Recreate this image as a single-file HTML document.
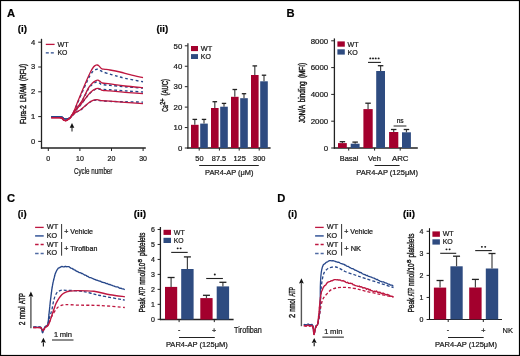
<!DOCTYPE html>
<html><head><meta charset="utf-8"><style>
html,body{margin:0;padding:0;background:#fff;}
svg{display:block;will-change:transform;}
text{font-family:"Liberation Sans",sans-serif;stroke:#1a1a1a;stroke-width:0.22px;}
</style></head><body>
<svg width="520" height="356" viewBox="0 0 520 356">
<rect x="0" y="0" width="520" height="356" fill="#fff"/>
<text x="7.0" y="16.6" font-size="11.2" text-anchor="start" fill="#000" font-weight="bold" >A</text>
<text x="286.4" y="16.6" font-size="11.2" text-anchor="start" fill="#000" font-weight="bold" >B</text>
<text x="7.0" y="201.8" font-size="11.2" text-anchor="start" fill="#000" font-weight="bold" >C</text>
<text x="277.2" y="201.8" font-size="11.2" text-anchor="start" fill="#000" font-weight="bold" >D</text>
<text x="17.7" y="31.7" font-size="8.6" text-anchor="start" fill="#000" font-weight="bold" textLength="9.2" lengthAdjust="spacingAndGlyphs" >(i)</text>
<line x1="41.5" y1="38.8" x2="41.5" y2="148.6" stroke="#222" stroke-width="1.3" />
<line x1="40.9" y1="148" x2="145.8" y2="148" stroke="#222" stroke-width="1.3" />
<line x1="38.2" y1="141.4" x2="41.5" y2="141.4" stroke="#222" stroke-width="1.0" />
<text x="35.3" y="143.8" font-size="7.6" text-anchor="end" fill="#1a1a1a" >0</text>
<line x1="38.2" y1="116.60000000000001" x2="41.5" y2="116.60000000000001" stroke="#222" stroke-width="1.0" />
<text x="35.3" y="119.00000000000001" font-size="7.6" text-anchor="end" fill="#1a1a1a" >1</text>
<line x1="38.2" y1="91.80000000000001" x2="41.5" y2="91.80000000000001" stroke="#222" stroke-width="1.0" />
<text x="35.3" y="94.20000000000002" font-size="7.6" text-anchor="end" fill="#1a1a1a" >2</text>
<line x1="38.2" y1="67.0" x2="41.5" y2="67.0" stroke="#222" stroke-width="1.0" />
<text x="35.3" y="69.4" font-size="7.6" text-anchor="end" fill="#1a1a1a" >3</text>
<line x1="38.2" y1="42.2" x2="41.5" y2="42.2" stroke="#222" stroke-width="1.0" />
<text x="35.3" y="44.6" font-size="7.6" text-anchor="end" fill="#1a1a1a" >4</text>
<line x1="48.3" y1="148" x2="48.3" y2="151" stroke="#222" stroke-width="1.0" />
<text x="48.3" y="161.0" font-size="7.0" text-anchor="middle" fill="#1a1a1a" >0</text>
<line x1="79.9" y1="148" x2="79.9" y2="151" stroke="#222" stroke-width="1.0" />
<text x="79.9" y="161.0" font-size="7.0" text-anchor="middle" fill="#1a1a1a" >10</text>
<line x1="111.5" y1="148" x2="111.5" y2="151" stroke="#222" stroke-width="1.0" />
<text x="111.5" y="161.0" font-size="7.0" text-anchor="middle" fill="#1a1a1a" >20</text>
<line x1="143.10000000000002" y1="148" x2="143.10000000000002" y2="151" stroke="#222" stroke-width="1.0" />
<text x="143.10000000000002" y="161.0" font-size="7.0" text-anchor="middle" fill="#1a1a1a" >30</text>
<text x="74.0" y="173.5" font-size="8.5" text-anchor="start" fill="#1a1a1a" textLength="38.4" lengthAdjust="spacingAndGlyphs" >Cycle number</text>
<text transform="translate(25.90,124.10) rotate(-90)" font-size="8.5" fill="#1a1a1a" style="stroke-width:0.45px" textLength="19.00" lengthAdjust="spacingAndGlyphs">Fura-2</text>
<text transform="translate(25.90,102.10) rotate(-90)" font-size="8.5" fill="#1a1a1a" style="stroke-width:0.45px" textLength="18.30" lengthAdjust="spacingAndGlyphs">LR/AM</text>
<text transform="translate(25.90,80.90) rotate(-90)" font-size="8.5" fill="#1a1a1a" style="stroke-width:0.45px" textLength="16.90" lengthAdjust="spacingAndGlyphs">(RFU)</text>
<line x1="45.8" y1="44.4" x2="54.6" y2="44.4" stroke="#be1740" stroke-width="1.3" />
<text x="57.4" y="47.1" font-size="7.2" text-anchor="start" fill="#1a1a1a" textLength="11.2" lengthAdjust="spacingAndGlyphs" >WT</text>
<line x1="45.8" y1="52.8" x2="54.6" y2="52.8" stroke="#27478a" stroke-width="1.3" stroke-dasharray="3,2"/>
<text x="57.4" y="55.3" font-size="7.2" text-anchor="start" fill="#1a1a1a" textLength="9.9" lengthAdjust="spacingAndGlyphs" >KO</text>
<line x1="72.0" y1="127.30000000000001" x2="72.0" y2="131.5" stroke="#777" stroke-width="1.7" />
<path d="M69.7,127.80000000000001 L72.0,122.9 L74.3,127.80000000000001 L72.0,127.80000000000001 Z" fill="#111"/>
<path d="M51.20,116.60 C52.33,116.60 56.28,116.55 58.00,116.60 C59.72,116.65 60.50,116.57 61.50,116.90 C62.50,117.23 63.25,118.25 64.00,118.60 C64.75,118.95 65.33,119.00 66.00,119.00 C66.67,119.00 67.25,118.88 68.00,118.60 C68.75,118.32 69.50,118.48 70.50,117.30 C71.50,116.12 72.62,114.38 74.00,111.50 C75.38,108.62 76.67,104.92 78.80,100.00 C80.93,95.08 84.93,86.08 86.80,82.00 C88.67,77.92 88.97,77.28 90.00,75.50 C91.03,73.72 92.08,72.28 93.00,71.30 C93.92,70.32 94.77,69.95 95.50,69.60 C96.23,69.25 96.73,69.13 97.40,69.20 C98.07,69.27 98.82,69.67 99.50,70.00 C100.18,70.33 100.83,70.85 101.50,71.20 C102.17,71.55 102.08,71.60 103.50,72.10 C104.92,72.60 108.08,73.62 110.00,74.20 C111.92,74.78 112.50,74.92 115.00,75.60 C117.50,76.28 120.33,77.27 125.00,78.30 C129.67,79.33 140.00,81.22 143.00,81.80" fill="none" stroke="#27478a" stroke-width="1.4" stroke-dasharray="2.8,2.5" stroke-dashoffset="0.0" stroke-linejoin="round"/>
<path d="M51.20,116.60 C52.33,116.60 56.28,116.55 58.00,116.60 C59.72,116.65 60.50,116.57 61.50,116.90 C62.50,117.23 63.25,118.25 64.00,118.60 C64.75,118.95 65.33,119.00 66.00,119.00 C66.67,119.00 67.25,118.88 68.00,118.60 C68.75,118.32 69.33,118.63 70.50,117.30 C71.67,115.97 73.13,113.18 75.00,110.60 C76.87,108.02 79.45,105.45 81.70,101.80 C83.95,98.15 86.70,91.62 88.50,88.70 C90.30,85.78 91.33,85.37 92.50,84.30 C93.67,83.23 94.67,82.68 95.50,82.30 C96.33,81.92 96.75,81.82 97.50,82.00 C98.25,82.18 99.25,82.97 100.00,83.40 C100.75,83.83 100.33,84.28 102.00,84.60 C103.67,84.92 106.17,84.93 110.00,85.30 C113.83,85.67 119.50,86.33 125.00,86.80 C130.50,87.27 140.00,87.88 143.00,88.10" fill="none" stroke="#27478a" stroke-width="1.4" stroke-dasharray="2.8,2.5" stroke-dashoffset="1.3" stroke-linejoin="round"/>
<path d="M51.20,116.60 C52.33,116.60 56.28,116.55 58.00,116.60 C59.72,116.65 60.50,116.57 61.50,116.90 C62.50,117.23 63.25,118.25 64.00,118.60 C64.75,118.95 65.33,119.00 66.00,119.00 C66.67,119.00 67.25,118.88 68.00,118.60 C68.75,118.32 69.25,118.62 70.50,117.30 C71.75,115.98 73.82,112.75 75.50,110.70 C77.18,108.65 78.43,107.65 80.60,105.00 C82.77,102.35 86.43,97.17 88.50,94.80 C90.57,92.43 91.75,91.73 93.00,90.80 C94.25,89.87 95.17,89.52 96.00,89.20 C96.83,88.88 97.25,88.88 98.00,88.90 C98.75,88.92 98.50,89.15 100.50,89.30 C102.50,89.45 105.92,89.53 110.00,89.80 C114.08,90.07 119.50,90.53 125.00,90.90 C130.50,91.27 140.00,91.82 143.00,92.00" fill="none" stroke="#27478a" stroke-width="1.4" stroke-dasharray="2.8,2.5" stroke-dashoffset="2.6" stroke-linejoin="round"/>
<path d="M51.20,116.60 C52.33,116.60 56.28,116.55 58.00,116.60 C59.72,116.65 60.50,116.57 61.50,116.90 C62.50,117.23 63.25,118.25 64.00,118.60 C64.75,118.95 65.33,119.00 66.00,119.00 C66.67,119.00 67.25,118.88 68.00,118.60 C68.75,118.32 69.17,118.33 70.50,117.30 C71.83,116.27 74.32,113.62 76.00,112.40 C77.68,111.18 78.52,111.53 80.60,110.00 C82.68,108.47 86.43,104.77 88.50,103.20 C90.57,101.63 91.58,101.13 93.00,100.60 C94.42,100.07 95.83,100.00 97.00,100.00 C98.17,100.00 97.83,100.37 100.00,100.60 C102.17,100.83 105.83,101.20 110.00,101.40 C114.17,101.60 119.50,101.68 125.00,101.80 C130.50,101.92 140.00,102.05 143.00,102.10" fill="none" stroke="#27478a" stroke-width="1.4" stroke-dasharray="2.8,2.5" stroke-dashoffset="3.9000000000000004" stroke-linejoin="round"/>
<path d="M51.20,117.60 C52.33,117.60 56.28,117.55 58.00,117.60 C59.72,117.65 60.50,117.45 61.50,117.90 C62.50,118.35 63.25,119.85 64.00,120.30 C64.75,120.75 65.33,120.73 66.00,120.60 C66.67,120.47 67.25,120.05 68.00,119.50 C68.75,118.95 69.50,118.72 70.50,117.30 C71.50,115.88 72.68,113.88 74.00,111.00 C75.32,108.12 76.27,105.17 78.40,100.00 C80.53,94.83 84.78,84.67 86.80,80.00 C88.82,75.33 89.38,74.17 90.50,72.00 C91.62,69.83 92.67,68.12 93.50,67.00 C94.33,65.88 94.87,65.63 95.50,65.30 C96.13,64.97 96.75,64.92 97.30,65.00 C97.85,65.08 98.30,65.38 98.80,65.80 C99.30,66.22 99.77,66.98 100.30,67.50 C100.83,68.02 101.22,68.60 102.00,68.90 C102.78,69.20 103.67,69.12 105.00,69.30 C106.33,69.48 107.50,69.55 110.00,70.00 C112.50,70.45 116.67,71.23 120.00,72.00 C123.33,72.77 126.17,73.67 130.00,74.60 C133.83,75.53 140.83,77.10 143.00,77.60" fill="none" stroke="#be1740" stroke-width="1.3" stroke-linejoin="round"/>
<path d="M51.20,117.60 C52.33,117.60 56.28,117.55 58.00,117.60 C59.72,117.65 60.50,117.45 61.50,117.90 C62.50,118.35 63.25,119.85 64.00,120.30 C64.75,120.75 65.33,120.73 66.00,120.60 C66.67,120.47 67.25,120.05 68.00,119.50 C68.75,118.95 69.33,118.83 70.50,117.30 C71.67,115.77 73.13,112.97 75.00,110.30 C76.87,107.63 79.45,105.03 81.70,101.30 C83.95,97.57 86.70,90.95 88.50,87.90 C90.30,84.85 91.33,84.18 92.50,83.00 C93.67,81.82 94.60,81.27 95.50,80.80 C96.40,80.33 97.10,80.07 97.90,80.20 C98.70,80.33 99.53,81.13 100.30,81.60 C101.07,82.07 100.88,82.62 102.50,83.00 C104.12,83.38 106.25,83.40 110.00,83.90 C113.75,84.40 119.50,85.37 125.00,86.00 C130.50,86.63 140.00,87.42 143.00,87.70" fill="none" stroke="#be1740" stroke-width="1.3" stroke-linejoin="round"/>
<path d="M51.20,117.60 C52.33,117.60 56.28,117.55 58.00,117.60 C59.72,117.65 60.50,117.45 61.50,117.90 C62.50,118.35 63.25,119.85 64.00,120.30 C64.75,120.75 65.33,120.73 66.00,120.60 C66.67,120.47 67.25,120.05 68.00,119.50 C68.75,118.95 69.25,118.80 70.50,117.30 C71.75,115.80 73.82,112.60 75.50,110.50 C77.18,108.40 78.43,107.35 80.60,104.70 C82.77,102.05 86.43,97.00 88.50,94.60 C90.57,92.20 91.75,91.28 93.00,90.30 C94.25,89.32 95.13,89.03 96.00,88.70 C96.87,88.37 97.45,88.20 98.20,88.30 C98.95,88.40 99.78,88.97 100.50,89.30 C101.22,89.63 100.92,90.03 102.50,90.30 C104.08,90.57 106.25,90.57 110.00,90.90 C113.75,91.23 119.50,91.83 125.00,92.30 C130.50,92.77 140.00,93.47 143.00,93.70" fill="none" stroke="#be1740" stroke-width="1.3" stroke-linejoin="round"/>
<path d="M51.20,117.60 C52.33,117.60 56.28,117.55 58.00,117.60 C59.72,117.65 60.50,117.45 61.50,117.90 C62.50,118.35 63.25,119.85 64.00,120.30 C64.75,120.75 65.33,120.73 66.00,120.60 C66.67,120.47 67.25,120.05 68.00,119.50 C68.75,118.95 69.17,118.50 70.50,117.30 C71.83,116.10 74.32,113.55 76.00,112.30 C77.68,111.05 78.52,111.35 80.60,109.80 C82.68,108.25 86.43,104.58 88.50,103.00 C90.57,101.42 91.58,100.87 93.00,100.30 C94.42,99.73 95.83,99.60 97.00,99.60 C98.17,99.60 97.83,100.03 100.00,100.30 C102.17,100.57 105.83,100.87 110.00,101.20 C114.17,101.53 119.50,101.90 125.00,102.30 C130.50,102.70 140.00,103.38 143.00,103.60" fill="none" stroke="#be1740" stroke-width="1.3" stroke-linejoin="round"/>
<text x="156.4" y="31.7" font-size="8.6" text-anchor="start" fill="#000" font-weight="bold" textLength="11.8" lengthAdjust="spacingAndGlyphs" >(ii)</text>
<line x1="187.9" y1="43.2" x2="187.9" y2="148.6" stroke="#444" stroke-width="1.4" />
<line x1="187.1" y1="148" x2="270.6" y2="148" stroke="#222" stroke-width="1.3" />
<line x1="184.8" y1="148.0" x2="187.7" y2="148.0" stroke="#222" stroke-width="1.0" />
<text x="182.3" y="150.7" font-size="7.8" text-anchor="end" fill="#1a1a1a" >0</text>
<line x1="184.8" y1="127.56" x2="187.7" y2="127.56" stroke="#222" stroke-width="1.0" />
<text x="182.3" y="130.26" font-size="7.8" text-anchor="end" fill="#1a1a1a" >10</text>
<line x1="184.8" y1="107.12" x2="187.7" y2="107.12" stroke="#222" stroke-width="1.0" />
<text x="182.3" y="109.82000000000001" font-size="7.8" text-anchor="end" fill="#1a1a1a" >20</text>
<line x1="184.8" y1="86.67999999999999" x2="187.7" y2="86.67999999999999" stroke="#222" stroke-width="1.0" />
<text x="182.3" y="89.38" font-size="7.8" text-anchor="end" fill="#1a1a1a" >30</text>
<line x1="184.8" y1="66.24" x2="187.7" y2="66.24" stroke="#222" stroke-width="1.0" />
<text x="182.3" y="68.94" font-size="7.8" text-anchor="end" fill="#1a1a1a" >40</text>
<line x1="184.8" y1="45.8" x2="187.7" y2="45.8" stroke="#222" stroke-width="1.0" />
<text x="182.3" y="48.5" font-size="7.8" text-anchor="end" fill="#1a1a1a" >50</text>
<rect x="191.0" y="124.8" width="7.60" height="23.20" fill="#a3002d"/>
<line x1="194.8" y1="124.8" x2="194.8" y2="119.4" stroke="#444" stroke-width="1.2" />
<line x1="192.5" y1="119.4" x2="197.10000000000002" y2="119.4" stroke="#222" stroke-width="1.3" />
<rect x="211.0" y="108.0" width="7.60" height="40.00" fill="#a3002d"/>
<line x1="214.8" y1="108.0" x2="214.8" y2="101.7" stroke="#444" stroke-width="1.2" />
<line x1="212.5" y1="101.7" x2="217.10000000000002" y2="101.7" stroke="#222" stroke-width="1.3" />
<rect x="231.0" y="96.8" width="7.60" height="51.20" fill="#a3002d"/>
<line x1="234.8" y1="96.8" x2="234.8" y2="89.5" stroke="#444" stroke-width="1.2" />
<line x1="232.5" y1="89.5" x2="237.10000000000002" y2="89.5" stroke="#222" stroke-width="1.3" />
<rect x="251.0" y="75.0" width="7.60" height="73.00" fill="#a3002d"/>
<line x1="254.8" y1="75.0" x2="254.8" y2="65.9" stroke="#444" stroke-width="1.2" />
<line x1="252.5" y1="65.9" x2="257.1" y2="65.9" stroke="#222" stroke-width="1.3" />
<rect x="200.2" y="123.6" width="7.60" height="24.40" fill="#2e4b80"/>
<line x1="204.0" y1="123.6" x2="204.0" y2="119.4" stroke="#444" stroke-width="1.2" />
<line x1="201.8" y1="119.4" x2="206.2" y2="119.4" stroke="#222" stroke-width="1.3" />
<rect x="220.2" y="106.7" width="7.60" height="41.30" fill="#2e4b80"/>
<line x1="224.0" y1="106.7" x2="224.0" y2="103.4" stroke="#444" stroke-width="1.2" />
<line x1="221.8" y1="103.4" x2="226.2" y2="103.4" stroke="#222" stroke-width="1.3" />
<rect x="240.2" y="98.2" width="7.60" height="49.80" fill="#2e4b80"/>
<line x1="244.0" y1="98.2" x2="244.0" y2="93.7" stroke="#444" stroke-width="1.2" />
<line x1="241.8" y1="93.7" x2="246.2" y2="93.7" stroke="#222" stroke-width="1.3" />
<rect x="260.2" y="81.3" width="7.60" height="66.70" fill="#2e4b80"/>
<line x1="264.0" y1="81.3" x2="264.0" y2="75.2" stroke="#444" stroke-width="1.2" />
<line x1="261.8" y1="75.2" x2="266.2" y2="75.2" stroke="#222" stroke-width="1.3" />
<line x1="199.2" y1="148" x2="199.2" y2="150.6" stroke="#222" stroke-width="1.0" />
<line x1="219.4" y1="148" x2="219.4" y2="150.6" stroke="#222" stroke-width="1.0" />
<line x1="239.2" y1="148" x2="239.2" y2="150.6" stroke="#222" stroke-width="1.0" />
<line x1="259.2" y1="148" x2="259.2" y2="150.6" stroke="#222" stroke-width="1.0" />
<text x="199.4" y="161.2" font-size="7.4" text-anchor="middle" fill="#1a1a1a" >50</text>
<text x="219.0" y="161.2" font-size="7.4" text-anchor="middle" fill="#1a1a1a" >87.5</text>
<text x="239.6" y="161.2" font-size="7.4" text-anchor="middle" fill="#1a1a1a" >125</text>
<text x="259.2" y="161.2" font-size="7.4" text-anchor="middle" fill="#1a1a1a" >300</text>
<line x1="199.2" y1="165.5" x2="258.8" y2="165.5" stroke="#222" stroke-width="1.0" />
<text x="205.0" y="174.8" font-size="7.5" text-anchor="start" fill="#1a1a1a" textLength="48.5" lengthAdjust="spacingAndGlyphs" >PAR4-AP (μM)</text>
<rect x="191" y="46" width="7.00" height="5.10" fill="#a3002d"/>
<rect x="191" y="54.1" width="7.00" height="4.90" fill="#2e4b80"/>
<text x="200.8" y="50.9" font-size="7.0" text-anchor="start" fill="#1a1a1a" textLength="11.4" lengthAdjust="spacingAndGlyphs" >WT</text>
<text x="200.8" y="58.8" font-size="7.0" text-anchor="start" fill="#1a1a1a" textLength="10.1" lengthAdjust="spacingAndGlyphs" >KO</text>
<text transform="translate(168.30,111.70) rotate(-90)" font-size="9.0" fill="#1a1a1a" style="stroke-width:0.45px" textLength="6.40" lengthAdjust="spacingAndGlyphs">Ca</text>
<text transform="translate(164.50,104.80) rotate(-90)" font-size="6.4" fill="#1a1a1a" style="stroke-width:0.45px" textLength="6.40" lengthAdjust="spacingAndGlyphs">2+</text>
<text transform="translate(168.30,95.50) rotate(-90)" font-size="9.0" fill="#1a1a1a" style="stroke-width:0.45px" textLength="16.40" lengthAdjust="spacingAndGlyphs">(AUC)</text>
<line x1="334.4" y1="38.4" x2="334.4" y2="148.6" stroke="#222" stroke-width="1.3" />
<line x1="333.8" y1="148" x2="417.8" y2="148" stroke="#222" stroke-width="1.3" />
<line x1="331.2" y1="148.0" x2="334.4" y2="148.0" stroke="#222" stroke-width="1.0" />
<text x="328.2" y="150.7" font-size="7.9" text-anchor="end" fill="#1a1a1a" >0</text>
<line x1="331.2" y1="121.2" x2="334.4" y2="121.2" stroke="#222" stroke-width="1.0" />
<text x="328.2" y="123.9" font-size="7.9" text-anchor="end" fill="#1a1a1a" >2000</text>
<line x1="331.2" y1="94.4" x2="334.4" y2="94.4" stroke="#222" stroke-width="1.0" />
<text x="328.2" y="97.10000000000001" font-size="7.9" text-anchor="end" fill="#1a1a1a" >4000</text>
<line x1="331.2" y1="67.6" x2="334.4" y2="67.6" stroke="#222" stroke-width="1.0" />
<text x="328.2" y="70.3" font-size="7.9" text-anchor="end" fill="#1a1a1a" >6000</text>
<line x1="331.2" y1="40.8" x2="334.4" y2="40.8" stroke="#222" stroke-width="1.0" />
<text x="328.2" y="43.5" font-size="7.9" text-anchor="end" fill="#1a1a1a" >8000</text>
<rect x="338.0" y="143.1" width="8.80" height="4.90" fill="#a3002d"/>
<line x1="342.4" y1="143.1" x2="342.4" y2="141.7" stroke="#444" stroke-width="1.2" />
<line x1="339.65" y1="141.7" x2="345.15" y2="141.7" stroke="#222" stroke-width="1.3" />
<rect x="350.7" y="143.7" width="8.90" height="4.30" fill="#2e4b80"/>
<line x1="355.15" y1="143.7" x2="355.15" y2="142.1" stroke="#444" stroke-width="1.2" />
<line x1="352.4" y1="142.1" x2="357.9" y2="142.1" stroke="#222" stroke-width="1.3" />
<rect x="363.4" y="109.1" width="9.30" height="38.90" fill="#a3002d"/>
<line x1="368.04999999999995" y1="109.1" x2="368.04999999999995" y2="103.2" stroke="#444" stroke-width="1.2" />
<line x1="365.29999999999995" y1="103.2" x2="370.79999999999995" y2="103.2" stroke="#222" stroke-width="1.3" />
<rect x="376.2" y="71.0" width="8.80" height="77.00" fill="#2e4b80"/>
<line x1="380.6" y1="71.0" x2="380.6" y2="65.7" stroke="#444" stroke-width="1.2" />
<line x1="377.85" y1="65.7" x2="383.35" y2="65.7" stroke="#222" stroke-width="1.3" />
<rect x="389.1" y="132.0" width="9.20" height="16.00" fill="#a3002d"/>
<line x1="393.70000000000005" y1="132.0" x2="393.70000000000005" y2="129.5" stroke="#444" stroke-width="1.2" />
<line x1="390.95000000000005" y1="129.5" x2="396.45000000000005" y2="129.5" stroke="#222" stroke-width="1.3" />
<rect x="402.0" y="132.3" width="8.90" height="15.70" fill="#2e4b80"/>
<line x1="406.45" y1="132.3" x2="406.45" y2="129.5" stroke="#444" stroke-width="1.2" />
<line x1="403.7" y1="129.5" x2="409.2" y2="129.5" stroke="#222" stroke-width="1.3" />
<line x1="348.7" y1="148" x2="348.7" y2="150.6" stroke="#222" stroke-width="1.0" />
<line x1="374.6" y1="148" x2="374.6" y2="150.6" stroke="#222" stroke-width="1.0" />
<line x1="400.2" y1="148" x2="400.2" y2="150.6" stroke="#222" stroke-width="1.0" />
<text x="349.0" y="160.8" font-size="7.5" text-anchor="middle" fill="#1a1a1a" textLength="18.7" lengthAdjust="spacingAndGlyphs" >Basal</text>
<text x="374.5" y="160.8" font-size="7.5" text-anchor="middle" fill="#1a1a1a" textLength="13.1" lengthAdjust="spacingAndGlyphs" >Veh</text>
<text x="400.2" y="160.8" font-size="7.5" text-anchor="middle" fill="#1a1a1a" textLength="16.6" lengthAdjust="spacingAndGlyphs" >ARC</text>
<line x1="374.6" y1="165.5" x2="399.6" y2="165.5" stroke="#222" stroke-width="1.0" />
<text x="356.3" y="174.8" font-size="7.6" text-anchor="start" fill="#1a1a1a" textLength="61.7" lengthAdjust="spacingAndGlyphs" >PAR4-AP (125μM)</text>
<ellipse cx="370.3" cy="58.4" rx="1.0" ry="0.9" fill="#1a1a1a"/>
<ellipse cx="373.0" cy="58.4" rx="1.0" ry="0.9" fill="#1a1a1a"/>
<ellipse cx="375.7" cy="58.4" rx="1.0" ry="0.9" fill="#1a1a1a"/>
<ellipse cx="378.6" cy="58.4" rx="1.0" ry="0.9" fill="#1a1a1a"/>
<line x1="368.0" y1="62.4" x2="380.9" y2="62.4" stroke="#222" stroke-width="1.1" />
<text x="400.2" y="122.9" font-size="6.4" text-anchor="middle" fill="#1a1a1a" textLength="7.0" lengthAdjust="spacingAndGlyphs" >ns</text>
<line x1="393.6" y1="126" x2="406.4" y2="126" stroke="#222" stroke-width="1.0" />
<rect x="337.4" y="41.4" width="7.40" height="5.30" fill="#a3002d"/>
<rect x="337.4" y="49.3" width="7.40" height="5.30" fill="#2e4b80"/>
<text x="347.6" y="46.7" font-size="7.2" text-anchor="start" fill="#1a1a1a" textLength="11.0" lengthAdjust="spacingAndGlyphs" >WT</text>
<text x="347.6" y="54.6" font-size="7.2" text-anchor="start" fill="#1a1a1a" textLength="10.2" lengthAdjust="spacingAndGlyphs" >KO</text>
<text transform="translate(305.00,123.00) rotate(-90)" font-size="8.6" fill="#1a1a1a" style="stroke-width:0.45px" textLength="18.00" lengthAdjust="spacingAndGlyphs">JON/A</text>
<text transform="translate(305.00,102.30) rotate(-90)" font-size="8.6" fill="#1a1a1a" style="stroke-width:0.45px" textLength="20.90" lengthAdjust="spacingAndGlyphs">binding</text>
<text transform="translate(305.00,78.10) rotate(-90)" font-size="8.6" fill="#1a1a1a" style="stroke-width:0.45px" textLength="15.20" lengthAdjust="spacingAndGlyphs">(MFI)</text>
<text x="17.7" y="217.2" font-size="8.6" text-anchor="start" fill="#000" font-weight="bold" textLength="8.9" lengthAdjust="spacingAndGlyphs" >(i)</text>
<line x1="35.1" y1="227.4" x2="43.7" y2="227.4" stroke="#be1740" stroke-width="1.3" />
<text x="46.8" y="229.4" font-size="7.2" text-anchor="start" fill="#1a1a1a" textLength="11.4" lengthAdjust="spacingAndGlyphs" >WT</text>
<line x1="35.1" y1="235.9" x2="43.7" y2="235.9" stroke="#5671a9" stroke-width="1.8" />
<text x="46.8" y="237.9" font-size="7.2" text-anchor="start" fill="#1a1a1a" textLength="10.4" lengthAdjust="spacingAndGlyphs" >KO</text>
<line x1="61.6" y1="224" x2="61.6" y2="238.9" stroke="#333" stroke-width="1.0" />
<text x="64.3" y="233.9" font-size="6.4" text-anchor="start" fill="#1a1a1a" textLength="28.7" lengthAdjust="spacingAndGlyphs" >+ Vehicle</text>
<line x1="35.1" y1="244.5" x2="43.7" y2="244.5" stroke="#be1740" stroke-width="1.3" stroke-dasharray="3.5,2"/>
<text x="46.8" y="246.6" font-size="7.2" text-anchor="start" fill="#1a1a1a" textLength="11.4" lengthAdjust="spacingAndGlyphs" >WT</text>
<line x1="35.1" y1="253.4" x2="43.7" y2="253.4" stroke="#4f6aa3" stroke-width="1.5" stroke-dasharray="3.5,2"/>
<text x="46.8" y="255.1" font-size="7.2" text-anchor="start" fill="#1a1a1a" textLength="10.4" lengthAdjust="spacingAndGlyphs" >KO</text>
<line x1="61.6" y1="242" x2="61.6" y2="255.7" stroke="#333" stroke-width="1.0" />
<text x="64.3" y="251.0" font-size="6.4" text-anchor="start" fill="#1a1a1a" textLength="33.0" lengthAdjust="spacingAndGlyphs" >+ Tirofiban</text>
<line x1="30.9" y1="296.2" x2="30.9" y2="328.2" stroke="#555" stroke-width="1.4" />
<path d="M28.5,296.7 L30.9,291.5 L33.3,296.7 L30.9,295.92 Z" fill="#111"/>
<text transform="translate(25.40,325.20) rotate(-90)" font-size="8.6" fill="#1a1a1a" style="stroke-width:0.4px" textLength="3.70" lengthAdjust="spacingAndGlyphs">2</text>
<text transform="translate(25.40,319.30) rotate(-90)" font-size="8.6" fill="#1a1a1a" style="stroke-width:0.4px" textLength="12.80" lengthAdjust="spacingAndGlyphs">nmol</text>
<text transform="translate(25.40,303.90) rotate(-90)" font-size="8.6" fill="#1a1a1a" style="stroke-width:0.4px" textLength="10.70" lengthAdjust="spacingAndGlyphs">ATP</text>
<line x1="43.4" y1="342.3" x2="43.4" y2="346.4" stroke="#222" stroke-width="1.2" />
<path d="M40.9,342.8 L43.4,337.8 L45.9,342.8 L43.4,342.05 Z" fill="#111"/>
<line x1="52.0" y1="340.0" x2="73.5" y2="340.0" stroke="#666" stroke-width="1.5" />
<text x="53.9" y="337.0" font-size="7.4" text-anchor="start" fill="#1a1a1a" >1</text>
<text x="59.7" y="337.0" font-size="7.4" text-anchor="start" fill="#1a1a1a" textLength="12.3" lengthAdjust="spacingAndGlyphs" >min</text>
<path d="M33.20,327.30 L33.88,327.30 L34.86,327.29 L35.98,327.28 L37.08,327.28 L38.00,327.30 L39.19,327.20 L40.18,327.13 L41.00,327.60 L41.34,328.28 L41.63,329.27 L41.88,330.39 L42.09,331.48 L42.30,332.34 L42.50,332.80 L42.85,332.47 L43.15,331.24 L43.50,330.00 L43.92,328.99 L44.39,327.96 L45.00,327.00 L45.86,326.49 L46.86,325.91 L47.70,324.73 L47.87,323.98 L48.02,323.37 L48.15,322.55 L48.27,321.31 L48.37,320.30 L48.47,319.76 L48.57,318.34 L48.67,317.22 L48.77,316.56 L48.88,315.11 L49.00,314.20 L49.09,313.14 L49.19,312.36 L49.29,311.16 L49.39,310.52 L49.49,309.71 L49.59,308.53 L49.69,307.69 L49.79,306.66 L49.89,305.32 L49.99,304.76 L50.09,303.69 L50.20,302.57 L50.30,301.49 L50.40,301.09 L50.50,299.98 L50.62,299.07 L50.75,298.13 L50.88,297.00 L51.00,296.10 L51.12,294.79 L51.25,294.06 L51.38,292.88 L51.50,292.24 L51.62,291.30 L51.75,289.94 L51.88,289.11 L52.00,288.33 L52.16,287.73 L52.32,286.44 L52.48,285.63 L52.64,284.56 L52.80,283.83 L52.96,282.93 L53.13,282.09 L53.31,281.40 L53.50,280.55 L53.73,279.76 L53.96,278.61 L54.21,277.75 L54.47,276.70 L54.73,275.81 L54.99,274.71 L55.25,273.55 L55.50,273.22 L55.99,272.02 L56.47,270.99 L56.96,269.97 L57.50,269.33 L58.27,268.21 L59.10,267.97 L60.00,267.34 L60.94,266.82 L61.95,266.46 L63.20,266.81 L64.15,266.85 L65.26,266.29 L66.41,266.74 L67.52,266.59 L68.50,266.59 L69.40,266.96 L70.08,267.62 L70.85,268.17 L72.00,268.33 L72.68,269.02 L73.44,269.07 L74.26,269.91 L75.14,270.13 L76.06,270.94 L77.02,271.49 L78.00,271.71 L79.00,272.50 L80.00,272.59 L80.75,272.82 L81.52,273.50 L82.29,273.54 L83.07,274.03 L83.87,274.55 L84.68,275.06 L85.51,275.18 L86.36,275.51 L87.24,276.41 L88.13,276.48 L89.05,277.27 L90.00,277.64 L90.77,277.65 L91.53,278.01 L92.28,278.36 L93.05,278.74 L93.82,279.02 L94.60,279.31 L95.41,279.66 L96.24,280.17 L97.09,280.23 L97.98,280.52 L98.91,281.03 L99.88,281.10 L100.90,281.50 L101.97,282.29 L103.10,282.41 L103.83,282.68 L104.61,282.63 L105.44,283.16 L106.32,283.55 L107.24,283.53 L108.19,284.20 L109.16,284.54 L110.16,284.53 L111.18,285.20 L112.20,285.45 L113.23,285.91 L114.26,286.06 L115.28,286.60 L116.28,286.95 L117.27,286.85 L118.23,287.18 L119.16,287.86 L120.06,288.32 L120.91,288.17 L121.71,288.56 L122.46,288.89 L123.15,288.95 L123.77,289.18 L124.33,289.33 L124.80,289.52" fill="none" stroke="#27478a" stroke-width="1.35" stroke-linejoin="round"/>
<path d="M33.20,327.00 C34.00,327.00 36.70,326.95 38.00,327.00 C39.30,327.05 40.17,326.72 41.00,327.30 C41.83,327.88 42.33,330.55 43.00,330.50 C43.67,330.45 44.22,328.08 45.00,327.00 C45.78,325.92 46.87,325.83 47.70,324.00 C48.53,322.17 49.28,318.45 50.00,316.00 C50.72,313.55 51.37,311.97 52.00,309.30 C52.63,306.63 53.10,302.58 53.80,300.00 C54.50,297.42 55.42,295.22 56.20,293.80 C56.98,292.38 57.70,292.08 58.50,291.50 C59.30,290.92 59.75,290.50 61.00,290.30 C62.25,290.10 62.83,290.18 66.00,290.30 C69.17,290.42 76.00,290.55 80.00,291.00 C84.00,291.45 86.67,292.25 90.00,293.00 C93.33,293.75 94.20,294.32 100.00,295.50 C105.80,296.68 120.67,299.33 124.80,300.10" fill="none" stroke="#27478a" stroke-width="1.3" stroke-dasharray="3,2" stroke-dashoffset="0" stroke-linejoin="round"/>
<path d="M33.20,327.50 C34.00,327.52 36.70,327.55 38.00,327.60 C39.30,327.65 40.17,327.28 41.00,327.80 C41.83,328.32 42.33,330.70 43.00,330.70 C43.67,330.70 44.17,328.67 45.00,327.80 C45.83,326.93 47.17,326.63 48.00,325.50 C48.83,324.37 49.33,322.75 50.00,321.00 C50.67,319.25 51.33,317.00 52.00,315.00 C52.67,313.00 53.33,310.92 54.00,309.00 C54.67,307.08 55.33,305.03 56.00,303.50 C56.67,301.97 57.25,301.00 58.00,299.80 C58.75,298.60 59.67,297.30 60.50,296.30 C61.33,295.30 62.08,294.50 63.00,293.80 C63.92,293.10 65.00,292.53 66.00,292.10 C67.00,291.67 67.17,291.45 69.00,291.20 C70.83,290.95 72.85,290.58 77.00,290.60 C81.15,290.62 88.40,290.62 93.90,291.30 C99.40,291.98 104.85,293.80 110.00,294.70 C115.15,295.60 122.33,296.37 124.80,296.70" fill="none" stroke="#be1740" stroke-width="1.4" stroke-linejoin="round"/>
<path d="M33.20,327.60 C34.00,327.62 36.70,327.65 38.00,327.70 C39.30,327.75 40.17,327.48 41.00,327.90 C41.83,328.32 42.17,330.32 43.00,330.20 C43.83,330.08 45.00,328.40 46.00,327.20 C47.00,326.00 48.00,324.87 49.00,323.00 C50.00,321.13 50.70,318.43 52.00,316.00 C53.30,313.57 55.47,310.07 56.80,308.40 C58.13,306.73 58.58,306.63 60.00,306.00 C61.42,305.37 61.97,304.73 65.30,304.60 C68.63,304.47 74.22,305.05 80.00,305.20 C85.78,305.35 92.53,305.12 100.00,305.50 C107.47,305.88 120.67,307.17 124.80,307.50" fill="none" stroke="#be1740" stroke-width="1.3" stroke-dasharray="3,2.2" stroke-dashoffset="0" stroke-linejoin="round"/>
<text x="133.8" y="217.2" font-size="8.6" text-anchor="start" fill="#000" font-weight="bold" textLength="12.2" lengthAdjust="spacingAndGlyphs" >(ii)</text>
<line x1="160.4" y1="227.0" x2="160.4" y2="320.1" stroke="#222" stroke-width="1.3" />
<line x1="159.8" y1="319.5" x2="233.6" y2="319.5" stroke="#222" stroke-width="1.3" />
<line x1="157.6" y1="319.3" x2="160.4" y2="319.3" stroke="#222" stroke-width="1.0" />
<text x="155.0" y="321.7" font-size="7.0" text-anchor="end" fill="#1a1a1a" >0</text>
<line x1="157.6" y1="304.33" x2="160.4" y2="304.33" stroke="#222" stroke-width="1.0" />
<text x="155.0" y="306.72999999999996" font-size="7.0" text-anchor="end" fill="#1a1a1a" >1</text>
<line x1="157.6" y1="289.36" x2="160.4" y2="289.36" stroke="#222" stroke-width="1.0" />
<text x="155.0" y="291.76" font-size="7.0" text-anchor="end" fill="#1a1a1a" >2</text>
<line x1="157.6" y1="274.39" x2="160.4" y2="274.39" stroke="#222" stroke-width="1.0" />
<text x="155.0" y="276.78999999999996" font-size="7.0" text-anchor="end" fill="#1a1a1a" >3</text>
<line x1="157.6" y1="259.42" x2="160.4" y2="259.42" stroke="#222" stroke-width="1.0" />
<text x="155.0" y="261.82" font-size="7.0" text-anchor="end" fill="#1a1a1a" >4</text>
<line x1="157.6" y1="244.45" x2="160.4" y2="244.45" stroke="#222" stroke-width="1.0" />
<text x="155.0" y="246.85" font-size="7.0" text-anchor="end" fill="#1a1a1a" >5</text>
<line x1="157.6" y1="229.48000000000002" x2="160.4" y2="229.48000000000002" stroke="#222" stroke-width="1.0" />
<text x="155.0" y="231.88000000000002" font-size="7.0" text-anchor="end" fill="#1a1a1a" >6</text>
<rect x="165.0" y="286.9" width="12.20" height="32.60" fill="#a3002d"/>
<line x1="171.1" y1="286.9" x2="171.1" y2="277.5" stroke="#444" stroke-width="1.2" />
<line x1="167.6" y1="277.5" x2="174.6" y2="277.5" stroke="#222" stroke-width="1.3" />
<rect x="181.2" y="269.0" width="12.40" height="50.50" fill="#2e4b80"/>
<line x1="187.39999999999998" y1="269.0" x2="187.39999999999998" y2="256.9" stroke="#444" stroke-width="1.2" />
<line x1="183.89999999999998" y1="256.9" x2="190.89999999999998" y2="256.9" stroke="#222" stroke-width="1.3" />
<rect x="200.3" y="298.1" width="12.30" height="21.40" fill="#a3002d"/>
<line x1="206.45" y1="298.1" x2="206.45" y2="295.3" stroke="#444" stroke-width="1.2" />
<line x1="202.95" y1="295.3" x2="209.95" y2="295.3" stroke="#222" stroke-width="1.3" />
<rect x="216.7" y="286.4" width="12.40" height="33.10" fill="#2e4b80"/>
<line x1="222.89999999999998" y1="286.4" x2="222.89999999999998" y2="282.3" stroke="#444" stroke-width="1.2" />
<line x1="219.39999999999998" y1="282.3" x2="226.39999999999998" y2="282.3" stroke="#222" stroke-width="1.3" />
<line x1="179.1" y1="319.5" x2="179.1" y2="322.1" stroke="#222" stroke-width="1.0" />
<line x1="214.3" y1="319.5" x2="214.3" y2="322.1" stroke="#222" stroke-width="1.0" />
<text x="179.2" y="332.3" font-size="7.0" text-anchor="middle" fill="#1a1a1a" >-</text>
<text x="214.0" y="332.8" font-size="7.2" text-anchor="middle" fill="#1a1a1a" >+</text>
<text x="234.0" y="332.7" font-size="8.2" text-anchor="start" fill="#1a1a1a" textLength="27.9" lengthAdjust="spacingAndGlyphs" >Tirofiban</text>
<line x1="179.0" y1="337.5" x2="214.8" y2="337.5" stroke="#222" stroke-width="1.0" />
<text x="165.9" y="346.5" font-size="7.5" text-anchor="start" fill="#1a1a1a" textLength="62.0" lengthAdjust="spacingAndGlyphs" >PAR4-AP (125μM)</text>
<ellipse cx="177.7" cy="248.3" rx="1.0" ry="0.9" fill="#1a1a1a"/>
<ellipse cx="180.6" cy="248.3" rx="1.0" ry="0.9" fill="#1a1a1a"/>
<line x1="171.2" y1="252.4" x2="187.7" y2="252.4" stroke="#222" stroke-width="1.1" />
<ellipse cx="214.8" cy="274.5" rx="1.0" ry="0.9" fill="#1a1a1a"/>
<line x1="206.2" y1="278.5" x2="222.9" y2="278.5" stroke="#222" stroke-width="1.1" />
<rect x="163.5" y="229.8" width="7.50" height="5.10" fill="#a3002d"/>
<rect x="163.5" y="237.8" width="7.50" height="5.20" fill="#2e4b80"/>
<text x="173.8" y="234.6" font-size="7.5" text-anchor="start" fill="#1a1a1a" textLength="11.0" lengthAdjust="spacingAndGlyphs" >WT</text>
<text x="173.8" y="242.7" font-size="7.5" text-anchor="start" fill="#1a1a1a" textLength="9.9" lengthAdjust="spacingAndGlyphs" >KO</text>
<text transform="translate(144.80,312.60) rotate(-90)" font-size="8.6" fill="#1a1a1a" style="stroke-width:0.4px" textLength="14.80" lengthAdjust="spacingAndGlyphs">Peak</text>
<text transform="translate(144.80,295.80) rotate(-90)" font-size="8.6" fill="#1a1a1a" style="stroke-width:0.4px" textLength="9.00" lengthAdjust="spacingAndGlyphs">ATP</text>
<text transform="translate(144.80,284.80) rotate(-90)" font-size="8.6" fill="#1a1a1a" style="stroke-width:0.4px" textLength="21.90" lengthAdjust="spacingAndGlyphs">nmol/10</text>
<text transform="translate(141.50,262.40) rotate(-90)" font-size="5.8" fill="#1a1a1a" style="stroke-width:0.4px" textLength="3.50" lengthAdjust="spacingAndGlyphs">8</text>
<text transform="translate(144.80,256.10) rotate(-90)" font-size="8.6" fill="#1a1a1a" style="stroke-width:0.4px" textLength="23.60" lengthAdjust="spacingAndGlyphs">platelets</text>
<text x="288.1" y="217.2" font-size="8.6" text-anchor="start" fill="#000" font-weight="bold" textLength="9.0" lengthAdjust="spacingAndGlyphs" >(i)</text>
<line x1="315.1" y1="227.4" x2="323.7" y2="227.4" stroke="#be1740" stroke-width="1.3" />
<text x="326.8" y="229.4" font-size="7.2" text-anchor="start" fill="#1a1a1a" textLength="11.4" lengthAdjust="spacingAndGlyphs" >WT</text>
<line x1="315.1" y1="235.9" x2="323.7" y2="235.9" stroke="#5671a9" stroke-width="1.8" />
<text x="326.8" y="237.9" font-size="7.2" text-anchor="start" fill="#1a1a1a" textLength="10.4" lengthAdjust="spacingAndGlyphs" >KO</text>
<line x1="341.6" y1="224" x2="341.6" y2="238.9" stroke="#333" stroke-width="1.0" />
<text x="344.3" y="233.9" font-size="6.4" text-anchor="start" fill="#1a1a1a" textLength="28.7" lengthAdjust="spacingAndGlyphs" >+ Vehicle</text>
<line x1="315.1" y1="244.5" x2="323.7" y2="244.5" stroke="#be1740" stroke-width="1.3" stroke-dasharray="3.5,2"/>
<text x="326.8" y="246.6" font-size="7.2" text-anchor="start" fill="#1a1a1a" textLength="11.4" lengthAdjust="spacingAndGlyphs" >WT</text>
<line x1="315.1" y1="253.4" x2="323.7" y2="253.4" stroke="#4f6aa3" stroke-width="1.5" stroke-dasharray="3.5,2"/>
<text x="326.8" y="255.1" font-size="7.2" text-anchor="start" fill="#1a1a1a" textLength="10.4" lengthAdjust="spacingAndGlyphs" >KO</text>
<line x1="341.6" y1="242" x2="341.6" y2="255.7" stroke="#333" stroke-width="1.0" />
<text x="344.3" y="251.0" font-size="6.4" text-anchor="start" fill="#1a1a1a" textLength="16.8" lengthAdjust="spacingAndGlyphs" >+ NK</text>
<line x1="301.4" y1="283.0" x2="301.4" y2="326.2" stroke="#555" stroke-width="1.4" />
<path d="M299.0,283.5 L301.4,278.3 L303.79999999999995,283.5 L301.4,282.72 Z" fill="#111"/>
<text transform="translate(295.30,317.90) rotate(-90)" font-size="8.6" fill="#1a1a1a" style="stroke-width:0.4px" textLength="4.10" lengthAdjust="spacingAndGlyphs">2</text>
<text transform="translate(295.30,311.80) rotate(-90)" font-size="8.6" fill="#1a1a1a" style="stroke-width:0.4px" textLength="13.10" lengthAdjust="spacingAndGlyphs">nmol</text>
<text transform="translate(295.30,296.60) rotate(-90)" font-size="8.6" fill="#1a1a1a" style="stroke-width:0.4px" textLength="9.60" lengthAdjust="spacingAndGlyphs">ATP</text>
<line x1="314.2" y1="342.5" x2="314.2" y2="346.2" stroke="#222" stroke-width="1.2" />
<path d="M311.7,343.0 L314.2,338.0 L316.7,343.0 L314.2,342.25 Z" fill="#111"/>
<line x1="322.4" y1="337.2" x2="343.9" y2="337.2" stroke="#666" stroke-width="1.5" />
<text x="324.3" y="334.2" font-size="7.4" text-anchor="start" fill="#1a1a1a" >1</text>
<text x="330.1" y="334.2" font-size="7.4" text-anchor="start" fill="#1a1a1a" textLength="12.3" lengthAdjust="spacingAndGlyphs" >min</text>
<path d="M303.80,324.40 L304.77,324.76 L306.00,325.00 L307.01,324.48 L308.00,324.00 L309.00,324.48 L310.00,325.00 L311.05,324.56 L312.00,324.40 L312.47,325.09 L312.86,326.22 L313.20,327.70 L313.33,328.57 L313.45,329.67 L313.55,330.89 L313.65,332.09 L313.75,333.12 L313.87,333.87 L314.00,334.20 L314.18,333.95 L314.37,333.18 L314.57,332.07 L314.78,330.82 L314.99,329.63 L315.20,328.70 L315.53,327.63 L315.87,326.68 L316.20,325.89 L316.50,325.30 L316.97,325.19 L317.40,324.90 L317.59,324.26 L317.78,323.41 L317.98,322.40 L318.19,321.25 L318.40,320.00 L318.54,319.18 L318.70,318.31 L318.86,317.40 L319.02,316.44 L319.19,315.43 L319.34,314.35 L319.48,313.21 L319.60,312.00 L319.67,311.22 L319.73,310.40 L319.79,309.57 L319.84,308.70 L319.89,307.81 L319.94,306.90 L319.98,305.97 L320.03,305.02 L320.06,304.04 L320.10,303.06 L320.14,302.05 L320.17,301.03 L320.20,300.00 L320.22,299.14 L320.24,298.25 L320.25,297.33 L320.26,296.39 L320.27,295.43 L320.28,294.46 L320.28,293.48 L320.29,292.50 L320.29,291.52 L320.30,290.54 L320.31,289.57 L320.32,288.61 L320.33,287.67 L320.35,286.75 L320.37,285.86 L320.40,285.00 L320.44,283.96 L320.48,282.94 L320.53,281.92 L320.58,280.92 L320.63,279.94 L320.68,278.97 L320.74,278.03 L320.81,277.11 L320.88,276.23 L320.95,275.37 L321.03,274.54 L321.11,273.75 L321.20,273.00 L321.38,271.70 L321.58,270.50 L321.80,269.41 L322.03,268.49 L322.28,267.39 L322.53,266.63 L322.80,266.19 L323.44,264.49 L324.15,264.20 L325.00,263.66 L325.78,262.74 L326.67,262.03 L327.59,261.86 L328.50,261.02 L329.57,260.61 L330.65,260.61 L332.00,260.84 L332.84,260.54 L333.78,260.88 L334.78,261.12 L335.83,261.76 L336.91,261.80 L338.00,262.45 L338.81,262.25 L339.61,262.67 L340.42,263.20 L341.25,263.71 L342.11,263.77 L343.02,264.01 L343.97,264.37 L345.00,265.12 L345.73,265.22 L346.49,266.02 L347.29,266.43 L348.11,266.37 L348.95,266.86 L349.81,267.66 L350.68,267.98 L351.56,268.53 L352.43,268.64 L353.30,268.92 L354.16,269.45 L355.00,270.21 L355.82,270.23 L356.61,270.66 L357.38,271.08 L358.15,271.44 L358.91,271.79 L359.69,272.51 L360.48,272.34 L361.30,272.61 L362.15,273.65 L363.04,274.01 L363.99,274.50 L365.00,274.55 L365.71,275.22 L366.46,275.52 L367.23,275.36 L368.03,276.06 L368.85,276.47 L369.69,276.70 L370.54,276.96 L371.41,277.16 L372.28,277.56 L373.16,277.84 L374.04,278.09 L374.93,278.82 L375.80,278.96 L376.67,279.68 L377.53,279.49 L378.37,280.43 L379.20,280.62 L380.00,281.10 L380.91,281.44 L381.85,281.80 L382.82,281.95 L383.80,281.93 L384.78,282.82 L385.77,282.79 L386.74,283.24 L387.69,283.85 L388.61,284.10 L389.49,284.35 L390.33,285.03 L391.11,285.09 L391.83,285.16 L392.47,285.34 L393.03,285.98 L393.50,285.88" fill="none" stroke="#27478a" stroke-width="1.3" stroke-linejoin="round"/>
<path d="M303.80,324.40 C304.17,324.50 305.30,325.07 306.00,325.00 C306.70,324.93 307.33,324.00 308.00,324.00 C308.67,324.00 309.33,324.93 310.00,325.00 C310.67,325.07 311.47,323.95 312.00,324.40 C312.53,324.85 312.87,326.07 313.20,327.70 C313.53,329.33 313.67,334.03 314.00,334.20 C314.33,334.37 314.78,330.18 315.20,328.70 C315.62,327.22 316.13,325.93 316.50,325.30 C316.87,324.67 317.05,325.78 317.40,324.90 C317.75,324.02 318.20,322.15 318.60,320.00 C319.00,317.85 319.47,315.33 319.80,312.00 C320.13,308.67 320.35,304.17 320.60,300.00 C320.85,295.83 320.93,290.83 321.30,287.00 C321.67,283.17 322.25,279.53 322.80,277.00 C323.35,274.47 323.73,273.22 324.60,271.80 C325.47,270.38 326.93,269.25 328.00,268.50 C329.07,267.75 329.70,267.55 331.00,267.30 C332.30,267.05 334.30,266.78 335.80,267.00 C337.30,267.22 338.47,267.85 340.00,268.60 C341.53,269.35 342.50,270.43 345.00,271.50 C347.50,272.57 351.67,273.85 355.00,275.00 C358.33,276.15 360.83,277.03 365.00,278.40 C369.17,279.77 375.25,281.67 380.00,283.20 C384.75,284.73 391.25,286.87 393.50,287.60" fill="none" stroke="#27478a" stroke-width="1.3" stroke-dasharray="3,2" stroke-dashoffset="0" stroke-linejoin="round"/>
<path d="M303.80,325.50 L304.77,325.86 L306.00,326.10 L307.01,325.58 L308.00,325.10 L309.00,325.57 L310.00,326.10 L311.05,325.71 L312.00,325.50 L312.47,325.96 L312.86,326.76 L313.20,328.00 L313.33,328.82 L313.45,329.92 L313.55,331.14 L313.65,332.34 L313.75,333.40 L313.87,334.17 L314.00,334.50 L314.18,334.25 L314.37,333.48 L314.57,332.37 L314.78,331.12 L314.99,329.93 L315.20,329.00 L315.53,327.93 L315.87,326.98 L316.20,326.19 L316.50,325.60 L316.98,325.51 L317.40,325.20 L317.57,324.51 L317.73,323.60 L317.88,322.51 L318.04,321.63 L318.20,319.82 L318.30,318.78 L318.40,318.29 L318.49,317.67 L318.59,315.91 L318.69,315.62 L318.79,314.71 L318.89,313.48 L319.00,312.39 L319.08,310.57 L319.17,310.43 L319.26,309.80 L319.35,307.89 L319.44,307.20 L319.53,306.25 L319.63,305.61 L319.72,304.54 L319.82,303.69 L319.91,303.17 L320.00,301.40 L320.12,300.35 L320.24,299.33 L320.35,298.26 L320.47,297.15 L320.59,297.24 L320.71,296.15 L320.85,294.33 L321.00,294.00 L321.25,292.61 L321.52,291.62 L321.80,290.78 L322.13,290.31 L322.50,289.40 L322.92,288.31 L323.37,287.33 L323.87,286.75 L324.41,285.77 L325.00,285.57 L325.67,285.01 L326.41,283.84 L327.19,282.74 L327.97,282.18 L328.70,281.85 L329.51,281.59 L330.27,281.42 L331.06,280.64 L332.00,280.86 L332.84,280.40 L333.73,279.92 L334.70,279.64 L335.78,279.67 L337.00,279.94 L337.75,279.69 L338.54,280.14 L339.37,280.03 L340.24,279.97 L341.14,280.55 L342.07,280.99 L343.03,280.51 L344.01,281.22 L345.00,281.51 L345.83,282.31 L346.70,282.65 L347.58,282.27 L348.49,283.20 L349.41,283.39 L350.34,283.08 L351.28,283.65 L352.22,283.57 L353.15,284.73 L354.08,284.88 L355.00,285.46 L355.89,285.66 L356.75,285.82 L357.59,286.21 L358.43,286.32 L359.26,286.07 L360.12,286.97 L361.00,286.58 L361.91,287.07 L362.88,288.15 L363.90,287.61 L365.00,288.01 L365.75,288.24 L366.54,289.41 L367.37,288.80 L368.22,288.85 L369.09,290.07 L369.99,289.44 L370.90,290.55 L371.82,290.59 L372.75,291.03 L373.68,291.41 L374.62,291.21 L375.55,291.72 L376.47,291.05 L377.38,292.18 L378.27,292.12 L379.15,292.61 L380.00,292.13 L380.97,293.19 L381.98,293.72 L383.01,292.99 L384.06,293.63 L385.11,294.25 L386.16,294.91 L387.18,294.53 L388.18,294.78 L389.14,295.18 L390.06,295.92 L390.91,296.36 L391.69,296.18 L392.39,296.38 L393.00,296.61 L393.50,296.72" fill="none" stroke="#be1740" stroke-width="1.4" stroke-linejoin="round"/>
<path d="M303.80,325.50 C304.17,325.60 305.30,326.17 306.00,326.10 C306.70,326.03 307.33,325.10 308.00,325.10 C308.67,325.10 309.33,326.03 310.00,326.10 C310.67,326.17 311.47,325.18 312.00,325.50 C312.53,325.82 312.87,326.50 313.20,328.00 C313.53,329.50 313.67,334.33 314.00,334.50 C314.33,334.67 314.78,330.48 315.20,329.00 C315.62,327.52 316.13,326.23 316.50,325.60 C316.87,324.97 317.05,326.13 317.40,325.20 C317.75,324.27 318.20,322.03 318.60,320.00 C319.00,317.97 319.40,315.33 319.80,313.00 C320.20,310.67 320.55,308.17 321.00,306.00 C321.45,303.83 321.90,301.58 322.50,300.00 C323.10,298.42 323.77,297.63 324.60,296.50 C325.43,295.37 326.38,294.35 327.50,293.20 C328.62,292.05 329.88,290.47 331.30,289.60 C332.72,288.73 334.30,288.38 336.00,288.00 C337.70,287.62 339.50,287.37 341.50,287.30 C343.50,287.23 345.75,287.40 348.00,287.60 C350.25,287.80 352.17,287.92 355.00,288.50 C357.83,289.08 360.83,290.13 365.00,291.10 C369.17,292.07 375.25,293.30 380.00,294.30 C384.75,295.30 391.25,296.63 393.50,297.10" fill="none" stroke="#be1740" stroke-width="1.3" stroke-dasharray="3,2" stroke-dashoffset="0" stroke-linejoin="round"/>
<text x="403.1" y="217.2" font-size="8.6" text-anchor="start" fill="#000" font-weight="bold" textLength="11.8" lengthAdjust="spacingAndGlyphs" >(ii)</text>
<line x1="429.5" y1="228.2" x2="429.5" y2="320.0" stroke="#111" stroke-width="1.1" />
<line x1="429.0" y1="319.5" x2="502.0" y2="319.5" stroke="#222" stroke-width="1.2" />
<line x1="426.6" y1="319.5" x2="429.5" y2="319.5" stroke="#222" stroke-width="1.0" />
<text x="423.5" y="322.3" font-size="7.0" text-anchor="end" fill="#1a1a1a" >0</text>
<line x1="426.6" y1="297.45" x2="429.5" y2="297.45" stroke="#222" stroke-width="1.0" />
<text x="423.5" y="300.25" font-size="7.0" text-anchor="end" fill="#1a1a1a" >1</text>
<line x1="426.6" y1="275.4" x2="429.5" y2="275.4" stroke="#222" stroke-width="1.0" />
<text x="423.5" y="278.2" font-size="7.0" text-anchor="end" fill="#1a1a1a" >2</text>
<line x1="426.6" y1="253.35" x2="429.5" y2="253.35" stroke="#222" stroke-width="1.0" />
<text x="423.5" y="256.15" font-size="7.0" text-anchor="end" fill="#1a1a1a" >3</text>
<line x1="426.6" y1="231.3" x2="429.5" y2="231.3" stroke="#222" stroke-width="1.0" />
<text x="423.5" y="234.10000000000002" font-size="7.0" text-anchor="end" fill="#1a1a1a" >4</text>
<rect x="433.9" y="287.6" width="12.30" height="31.80" fill="#a3002d"/>
<line x1="440.04999999999995" y1="287.6" x2="440.04999999999995" y2="280.5" stroke="#444" stroke-width="1.2" />
<line x1="436.54999999999995" y1="280.5" x2="443.54999999999995" y2="280.5" stroke="#222" stroke-width="1.3" />
<rect x="450.4" y="266.3" width="12.30" height="53.10" fill="#2e4b80"/>
<line x1="456.54999999999995" y1="266.3" x2="456.54999999999995" y2="256.2" stroke="#444" stroke-width="1.2" />
<line x1="453.04999999999995" y1="256.2" x2="460.04999999999995" y2="256.2" stroke="#222" stroke-width="1.3" />
<rect x="469.2" y="287.5" width="12.40" height="31.90" fill="#a3002d"/>
<line x1="475.4" y1="287.5" x2="475.4" y2="279.4" stroke="#444" stroke-width="1.2" />
<line x1="471.9" y1="279.4" x2="478.9" y2="279.4" stroke="#222" stroke-width="1.3" />
<rect x="485.8" y="268.5" width="12.40" height="50.90" fill="#2e4b80"/>
<line x1="492.0" y1="268.5" x2="492.0" y2="253.5" stroke="#444" stroke-width="1.2" />
<line x1="488.5" y1="253.5" x2="495.5" y2="253.5" stroke="#222" stroke-width="1.3" />
<line x1="448.2" y1="319.4" x2="448.2" y2="322.0" stroke="#222" stroke-width="1.0" />
<line x1="483.3" y1="319.4" x2="483.3" y2="322.0" stroke="#222" stroke-width="1.0" />
<text x="448.0" y="332.1" font-size="7.0" text-anchor="middle" fill="#1a1a1a" >-</text>
<text x="483.3" y="332.8" font-size="7.2" text-anchor="middle" fill="#1a1a1a" >+</text>
<text x="502.6" y="332.7" font-size="7.8" text-anchor="start" fill="#1a1a1a" textLength="10.4" lengthAdjust="spacingAndGlyphs" >NK</text>
<line x1="448.0" y1="337.5" x2="483.7" y2="337.5" stroke="#222" stroke-width="1.0" />
<text x="435.0" y="346.5" font-size="7.5" text-anchor="start" fill="#1a1a1a" textLength="62.0" lengthAdjust="spacingAndGlyphs" >PAR4-AP (125μM)</text>
<ellipse cx="446.5" cy="249.3" rx="1.0" ry="0.9" fill="#1a1a1a"/>
<ellipse cx="449.6" cy="249.3" rx="1.0" ry="0.9" fill="#1a1a1a"/>
<line x1="440.2" y1="253.3" x2="456.2" y2="253.3" stroke="#222" stroke-width="1.1" />
<ellipse cx="481.9" cy="246.8" rx="1.0" ry="0.9" fill="#1a1a1a"/>
<ellipse cx="485.2" cy="246.8" rx="1.0" ry="0.9" fill="#1a1a1a"/>
<line x1="475.2" y1="250.6" x2="491.8" y2="250.6" stroke="#222" stroke-width="1.1" />
<rect x="432.4" y="231.4" width="7.50" height="5.40" fill="#a3002d"/>
<rect x="432.4" y="239.3" width="7.50" height="5.30" fill="#2e4b80"/>
<text x="442.7" y="236.1" font-size="7.5" text-anchor="start" fill="#1a1a1a" textLength="11.0" lengthAdjust="spacingAndGlyphs" >WT</text>
<text x="442.7" y="244.4" font-size="7.5" text-anchor="start" fill="#1a1a1a" textLength="10.1" lengthAdjust="spacingAndGlyphs" >KO</text>
<text transform="translate(413.80,312.60) rotate(-90)" font-size="8.6" fill="#1a1a1a" style="stroke-width:0.4px" textLength="14.90" lengthAdjust="spacingAndGlyphs">Peak</text>
<text transform="translate(413.80,296.20) rotate(-90)" font-size="8.6" fill="#1a1a1a" style="stroke-width:0.4px" textLength="8.60" lengthAdjust="spacingAndGlyphs">ATP</text>
<text transform="translate(413.80,285.90) rotate(-90)" font-size="8.6" fill="#1a1a1a" style="stroke-width:0.4px" textLength="22.40" lengthAdjust="spacingAndGlyphs">nmol/10</text>
<text transform="translate(410.50,263.00) rotate(-90)" font-size="5.8" fill="#1a1a1a" style="stroke-width:0.4px" textLength="3.50" lengthAdjust="spacingAndGlyphs">8</text>
<text transform="translate(413.80,257.60) rotate(-90)" font-size="8.6" fill="#1a1a1a" style="stroke-width:0.4px" textLength="24.00" lengthAdjust="spacingAndGlyphs">platelets</text>
<rect x="0.5" y="0.5" width="519" height="355" fill="none" stroke="#000" stroke-width="1.2"/>
</svg>
</body></html>
